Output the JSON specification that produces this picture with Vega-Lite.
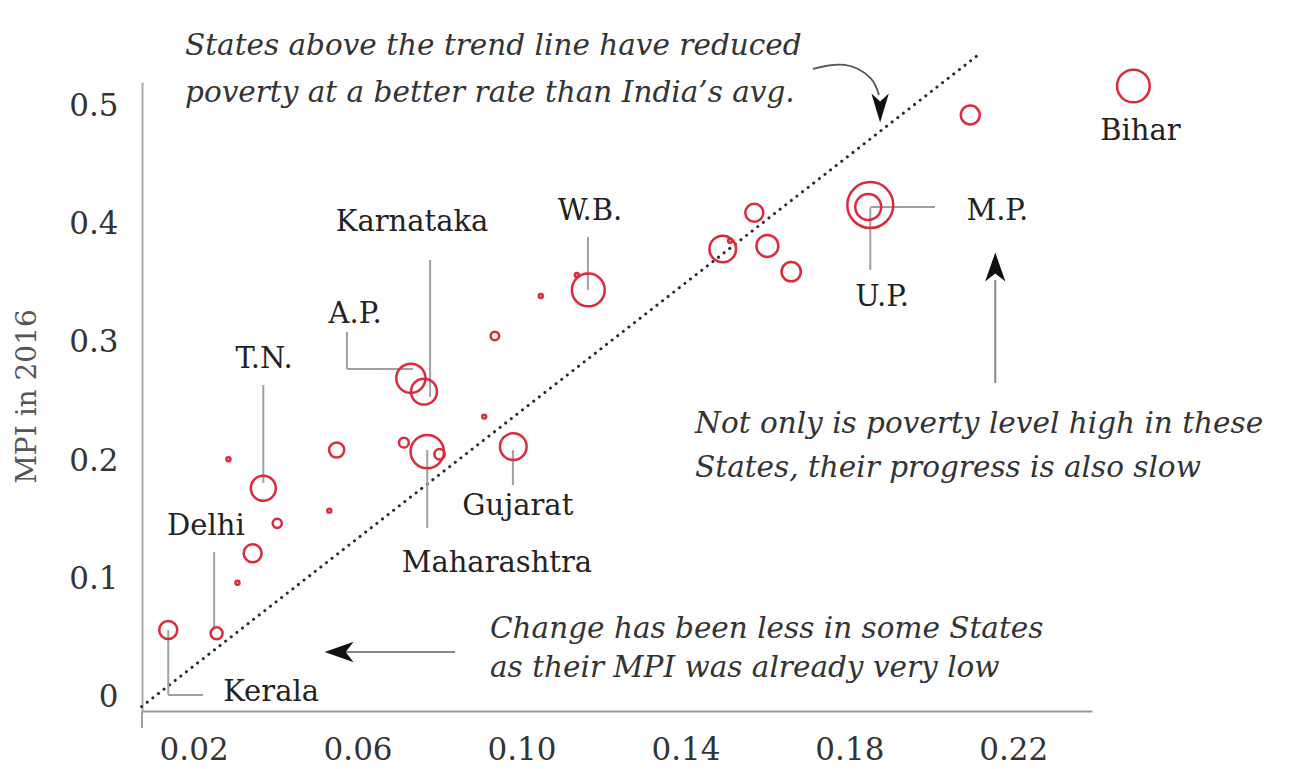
{
  "$schema": "https://vega.github.io/schema/vega-lite/v6.json",
  "width": 950,
  "height": 629,
  "autosize": {"type": "none"},
  "padding": {"left": 142, "top": 82, "right": 212, "bottom": 58},
  "background": "white",
  "config": {"view": {"stroke": null}, "font": "DejaVu Serif"},
  "encoding": {
    "x": {
      "field": "x", "type": "quantitative",
      "scale": {"domain": [0.0074, 0.2392], "nice": false, "zero": false},
      "axis": {"values": [0.02, 0.06, 0.1, 0.14, 0.18, 0.22], "format": ".2f", "title": null, "grid": false, "ticks": false,
               "domainColor": "#999", "domainWidth": 2, "labelFontSize": 31, "labelColor": "#333", "labelPadding": 24,
               "labelFont": "DejaVu Serif", "labelFlush": false}
    },
    "y": {
      "field": "y", "type": "quantitative",
      "scale": {"domain": [-0.0113, 0.5205], "nice": false, "zero": false},
      "axis": {"values": [0, 0.1, 0.2, 0.3, 0.4, 0.5], "format": ".1~f", "title": "MPI in 2016", "grid": false, "ticks": false,
               "domainColor": "#aaa", "domainWidth": 2, "labelFontSize": 31, "labelColor": "#333", "labelPadding": 24,
               "labelFont": "DejaVu Serif", "labelFlush": false,
               "titleFont": "DejaVu Serif", "titleFontSize": 28, "titleFontWeight": "normal", "titleColor": "#555",
               "titleX": -115, "titleY": 314, "titleAlign": "center", "titleBaseline": "middle", "titleAngle": 270}
    }
  },
  "layer": [
    {
      "data": {"values": [{"x": 0.0073, "y": -0.0076}, {"x": 0.2114, "y": 0.5433}]},
      "mark": {"type": "line", "color": "#2a2a2a", "strokeWidth": 3, "strokeDash": [0.1, 7], "strokeCap": "round"}
    },
    {
      "data": {"values": [
        {"x": 0.0138, "y": 0.0572, "x2": 0.0138, "y2": 0.0023},
        {"x": 0.0138, "y": 0.0023, "x2": 0.0223, "y2": 0.0023},
        {"x": 0.0250, "y": 0.1232, "x2": 0.0250, "y2": 0.0572},
        {"x": 0.0370, "y": 0.2644, "x2": 0.0370, "y2": 0.1815},
        {"x": 0.0574, "y": 0.3092, "x2": 0.0574, "y2": 0.2779},
        {"x": 0.0574, "y": 0.2779, "x2": 0.0735, "y2": 0.2779},
        {"x": 0.0777, "y": 0.3700, "x2": 0.0777, "y2": 0.2542},
        {"x": 0.1162, "y": 0.3895, "x2": 0.1162, "y2": 0.3447},
        {"x": 0.0770, "y": 0.2094, "x2": 0.0770, "y2": 0.1435},
        {"x": 0.0979, "y": 0.2094, "x2": 0.0979, "y2": 0.1798},
        {"x": 0.1851, "y": 0.4140, "x2": 0.1851, "y2": 0.3615},
        {"x": 0.1851, "y": 0.4148, "x2": 0.2009, "y2": 0.4148},
        {"x": 0.0074, "y": -0.0113, "x2": 0.0074, "y2": -0.0257}
      ]},
      "mark": {"type": "rule", "color": "#a0a0a0", "strokeWidth": 2},
      "encoding": {"x2": {"field": "x2"}, "y2": {"field": "y2"}}
    },
    {
      "data": {"values": [
        {"x": 0.2156, "y": 0.2660, "x2": 0.2156, "y2": 0.3531},
        {"x": 0.0838, "y": 0.0386, "x2": 0.0569, "y2": 0.0386}
      ]},
      "mark": {"type": "rule", "color": "#888", "strokeWidth": 2},
      "encoding": {"x2": {"field": "x2"}, "y2": {"field": "y2"}}
    },
    {
      "data": {"values": [
        {"x": 0.1711, "y": 0.5315}, {"x": 0.1789, "y": 0.5349}, {"x": 0.1851, "y": 0.5239}, {"x": 0.1872, "y": 0.5095}
      ]},
      "mark": {"type": "line", "color": "#555", "strokeWidth": 1.8, "interpolate": "natural"}
    },
    {
      "data": {"values": [
        {"x": 0.1875, "y": 0.4985, "dir": "down"},
        {"x": 0.2156, "y": 0.3641, "dir": "up"},
        {"x": 0.0555, "y": 0.0386, "dir": "left"}
      ]},
      "mark": {"type": "point", "filled": true, "color": "#111", "size": 841, "opacity": 1},
      "encoding": {
        "shape": {"field": "dir", "type": "nominal",
                  "scale": {"domain": ["down", "up", "left"],
                            "range": ["M0,1L-0.6,-1L0,-0.45L0.6,-1Z", "M0,-1L-0.7,1L0,0.45L0.7,1Z", "M-1,0L1,-0.7L0.45,0L1,0.7Z"]},
                  "legend": null}
      }
    },
    {
      "data": {"values": [
        {"state": "Kerala", "x": 0.0138, "y": 0.0572, "pop": 27},
        {"state": "Delhi", "x": 0.0256, "y": 0.0544, "pop": 12},
        {"state": "", "x": 0.0307, "y": 0.0972, "pop": 1.3},
        {"state": "", "x": 0.0344, "y": 0.1221, "pop": 27},
        {"state": "", "x": 0.0404, "y": 0.1474, "pop": 7},
        {"state": "T.N.", "x": 0.0370, "y": 0.1770, "pop": 52},
        {"state": "", "x": 0.0285, "y": 0.2015, "pop": 1.3},
        {"state": "", "x": 0.0549, "y": 0.2094, "pop": 19},
        {"state": "", "x": 0.0531, "y": 0.1581, "pop": 1.3},
        {"state": "", "x": 0.0713, "y": 0.2156, "pop": 8},
        {"state": "Maharashtra", "x": 0.0770, "y": 0.2080, "pop": 93},
        {"state": "", "x": 0.0800, "y": 0.2058, "pop": 9},
        {"state": "A.P.", "x": 0.0730, "y": 0.2700, "pop": 71},
        {"state": "Karnataka", "x": 0.0762, "y": 0.2587, "pop": 56},
        {"state": "", "x": 0.0935, "y": 0.3058, "pop": 6},
        {"state": "", "x": 0.1047, "y": 0.3396, "pop": 1.3},
        {"state": "W.B.", "x": 0.1163, "y": 0.3447, "pop": 90},
        {"state": "", "x": 0.1135, "y": 0.3573, "pop": 1.3},
        {"state": "", "x": 0.0909, "y": 0.2376, "pop": 1.3},
        {"state": "Gujarat", "x": 0.0980, "y": 0.2122, "pop": 59},
        {"state": "", "x": 0.1568, "y": 0.4100, "pop": 27},
        {"state": "", "x": 0.1491, "y": 0.3793, "pop": 59},
        {"state": "", "x": 0.1509, "y": 0.3863, "pop": 1.3},
        {"state": "", "x": 0.1600, "y": 0.3819, "pop": 40},
        {"state": "", "x": 0.1658, "y": 0.3601, "pop": 31},
        {"state": "U.P.", "x": 0.1851, "y": 0.4165, "pop": 176},
        {"state": "M.P.", "x": 0.1846, "y": 0.4148, "pop": 56},
        {"state": "", "x": 0.2095, "y": 0.4926, "pop": 30},
        {"state": "Bihar", "x": 0.2493, "y": 0.5171, "pop": 89}
      ]},
      "mark": {"type": "point", "shape": "circle", "filled": false, "color": "#dd2a3a", "strokeWidth": 2.5, "opacity": 1},
      "encoding": {
        "size": {"field": "pop", "type": "quantitative", "scale": {"type": "linear", "domain": [0, 200], "range": [0, 2400], "zero": true}, "legend": null}
      }
    },
    {
      "data": {"values": [
        {"label": "Kerala", "x": 0.0389, "y": 0.0048},
        {"label": "Delhi", "x": 0.0230, "y": 0.1452},
        {"label": "T.N.", "x": 0.0372, "y": 0.2862},
        {"label": "A.P.", "x": 0.0594, "y": 0.3244},
        {"label": "Karnataka", "x": 0.0733, "y": 0.4021},
        {"label": "W.B.", "x": 0.1167, "y": 0.4115},
        {"label": "Maharashtra", "x": 0.0940, "y": 0.1139},
        {"label": "Gujarat", "x": 0.0991, "y": 0.1621},
        {"label": "U.P.", "x": 0.1880, "y": 0.3388},
        {"label": "M.P.", "x": 0.2161, "y": 0.4115},
        {"label": "Bihar", "x": 0.2510, "y": 0.4791}
      ]},
      "mark": {"type": "text", "fontSize": 29, "color": "#222", "baseline": "middle", "align": "center", "font": "DejaVu Serif"},
      "encoding": {"text": {"field": "label"}}
    },
    {
      "data": {"values": [
        {"note": "States above the trend line have reduced", "x": 0.01789, "y": 0.5433},
        {"note": "poverty at a better rate than India’s avg.", "x": 0.01789, "y": 0.5036},
        {"note": "Not only is poverty level high in these", "x": 0.14236, "y": 0.2238},
        {"note": "States, their progress is also slow", "x": 0.14236, "y": 0.1866},
        {"note": "Change has been less in some States", "x": 0.09232, "y": 0.0505},
        {"note": "as their MPI was already very low", "x": 0.09232, "y": 0.0175}
      ]},
      "mark": {"type": "text", "fontSize": 29.5, "fontStyle": "italic", "color": "#333", "align": "left", "baseline": "alphabetic", "font": "DejaVu Serif"},
      "encoding": {"text": {"field": "note"}}
    }
  ]
}
